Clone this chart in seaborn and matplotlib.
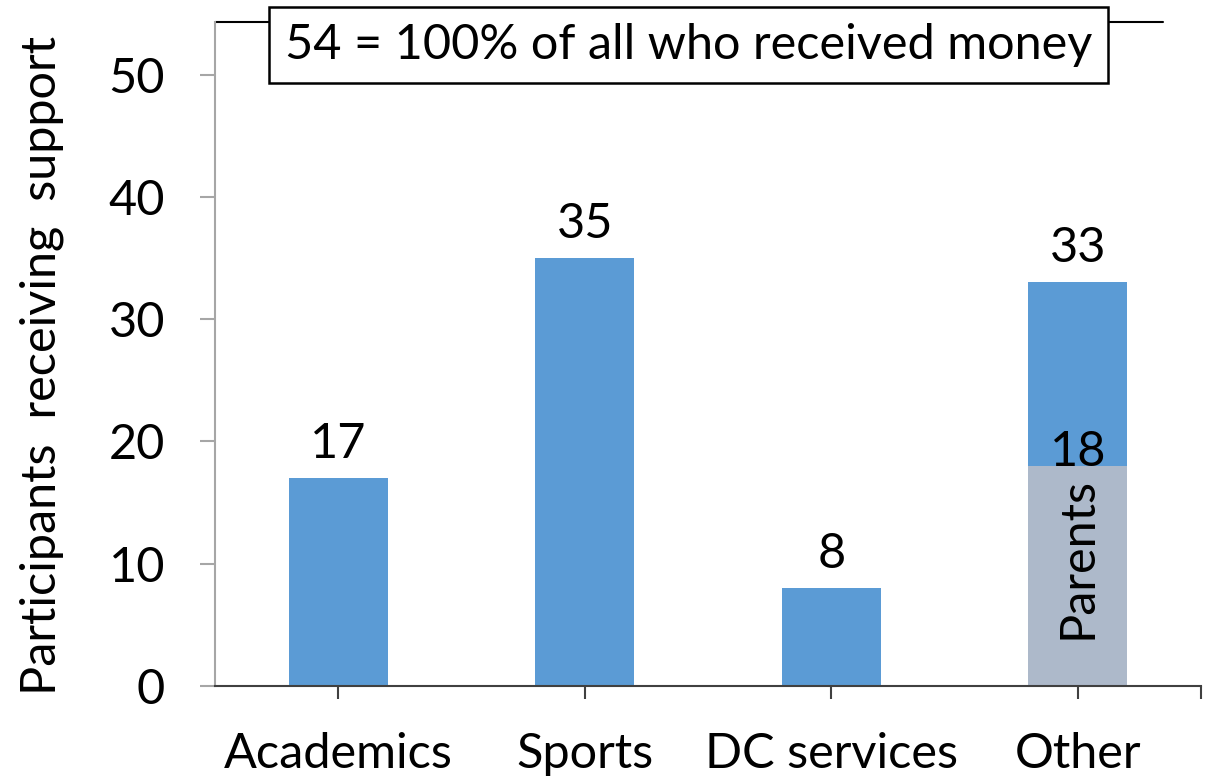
import matplotlib
matplotlib.use("Agg")
import matplotlib.pyplot as plt
import seaborn as sns
import pandas as pd

# data
categories = ["Academics", "Sports", "DC services", "Other"]
totals = [17, 35, 8, 33]
parents_cat = ["Other"]
parents_val = [18]
title_text = "54 = 100% of all who received money"
ylabel = "Participants  receiving  support"

blue = "#5B9BD5"
grey = "#ADB9CA"
fs = 35

sns.set_theme(style="white")
plt.rcParams["font.family"] = ["Lato", "DejaVu Sans"]
plt.rcParams["text.color"] = "black"
plt.rcParams["axes.labelcolor"] = "black"
plt.rcParams["xtick.color"] = "black"
plt.rcParams["ytick.color"] = "black"

df = pd.DataFrame({"category": categories, "n": totals})
df_par = pd.DataFrame({"category": parents_cat, "n": parents_val})

fig = plt.figure(figsize=(12.15, 7.81), dpi=100)
ax = fig.add_axes([215 / 1215, 95 / 781, 986 / 1215, 664 / 781])

sns.barplot(data=df, x="category", y="n", order=categories, color=blue,
            width=0.4, saturation=1, linewidth=0, ax=ax)
sns.barplot(data=df_par, x="category", y="n", order=categories, color=grey,
            width=0.4, saturation=1, linewidth=0, ax=ax)

ax.set_xlim(-0.5, 3.5)
ax.set_ylim(0, 54.3)
ax.set_yticks(range(0, 51, 10))

# value labels above the blue bars
ax.bar_label(ax.containers[0], labels=[str(v) for v in totals], padding=9,
             fontsize=fs, color="black")
# parents part of "Other"
ax.text(3, parents_val[0], str(parents_val[0]), ha="center", va="baseline",
        fontsize=fs, color="black")
ax.text(3, parents_val[0] * 0.58, "Parents", rotation=90, ha="center",
        va="center", fontsize=fs, color="black")

# spines / ticks like the excel chart
for s in ["top", "right"]:
    ax.spines[s].set_visible(False)
ax.spines["left"].set_color("#A6A6A6")
ax.spines["left"].set_linewidth(1.5)
ax.spines["bottom"].set_color("#404040")
ax.spines["bottom"].set_linewidth(1.5)
ax.tick_params(axis="y", direction="out", length=11, width=1.5, color="#A6A6A6",
               labelcolor="black", labelsize=fs, pad=25, left=True)
ax.tick_params(axis="x", direction="out", length=9, width=1.5, color="#404040",
               labelcolor="black", labelsize=fs, pad=24, bottom=True)
ax.set_xticks([3.5], minor=True)
ax.tick_params(axis="x", which="minor", direction="out", length=9, width=1.5,
               color="#404040", bottom=True)

ax.set_xlabel("")
ax.set_ylabel(ylabel, fontsize=35, color="black")
ax.yaxis.set_label_coords(-0.153, 0.482)

# top line and the boxed note
ax.plot([0, 0.961], [1, 1], transform=ax.transAxes, color="black", lw=1.5,
        clip_on=False)
ax.text(0.48, 0.965, title_text, transform=ax.transAxes, ha="center", va="center",
        fontsize=fs, color="black", zorder=5,
        bbox=dict(boxstyle="square,pad=0.33", facecolor="white", edgecolor="black",
                  linewidth=1.8))

fig.savefig("out.png", dpi=100)
